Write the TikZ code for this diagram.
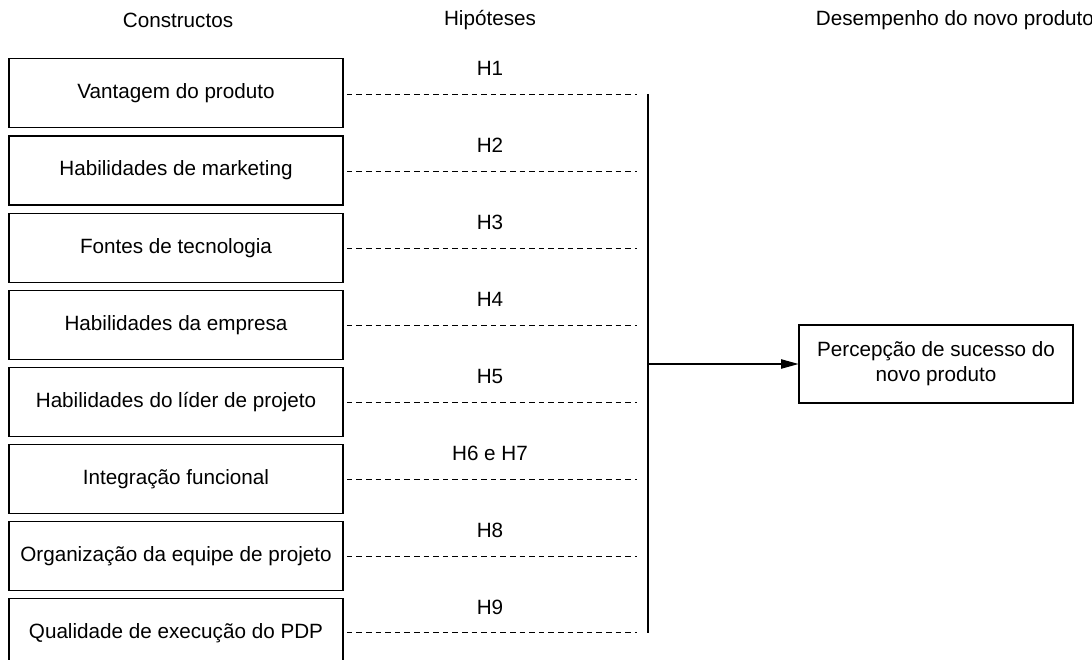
\documentclass[tikz,border=0pt]{standalone}
\usepackage{fontspec}
\setmainfont{Liberation Sans}
\usetikzlibrary{arrows.meta}
\tikzset{
  cbox/.style={draw, line width=.8pt, minimum width=250.5pt, minimum height=51.75pt, inner sep=0pt},
  outbox/.style={draw, line width=.8pt, minimum width=205.5pt, minimum height=58.5pt, align=center},
  hdash/.style={line width=.7pt, dash pattern=on 4.2pt off 3pt, shorten <=2.5pt},
  hlab/.style={inner sep=0pt}
}
\begin{document}
\begin{tikzpicture}[x=.75pt, y=-.75pt, font=\fontsize{15.5}{18.75}\selectfont]
  \useasboundingbox (0,0) rectangle (1092,660);
  \clip (0,0) rectangle (1092,660);
  % headings
  \node (tc) at (178,20) {Constructos};
  \node (th) at (490,20) {Hipóteses};
  \node[inner sep=0pt] (td) at (955,20) {Desempenho do novo produto};
  % constructs
  \node[cbox] (c1) at (176,93) {Vantagem do produto};
  \node[cbox] (c2) at (176,170.5) {Habilidades de marketing};
  \node[cbox] (c3) at (176,248) {Fontes de tecnologia};
  \node[cbox] (c4) at (176,325) {Habilidades da empresa};
  \node[cbox] (c5) at (176,402) {Habilidades do líder de projeto};
  \node[cbox] (c6) at (176,479) {Integração funcional};
  \node[cbox] (c7) at (176,556) {Organização da equipe de projeto};
  \node[cbox] (c8) at (176,633) {Qualidade de execução do PDP};
  % hypotheses
  \node[hlab] (h1) at (490,68) {H1};
  \node[hlab] (h2) at (490,145) {H2};
  \node[hlab] (h3) at (490,222) {H3};
  \node[hlab] (h4) at (490,299) {H4};
  \node[hlab] (h5) at (490,376) {H5};
  \node[hlab] (h6) at (490,453) {H6 e H7};
  \node[hlab] (h8) at (490,530) {H8};
  \node[hlab] (h9) at (490,607) {H9};
  \coordinate (e1) at (637,94);
  \coordinate (e2) at (637,171);
  \coordinate (e3) at (637,248);
  \coordinate (e4) at (637,325);
  \coordinate (e5) at (637,402);
  \coordinate (e6) at (637,479);
  \coordinate (e7) at (637,556);
  \coordinate (e8) at (637,632);
  \draw[hdash] (c1.east |- e1) -- (e1);
  \draw[hdash] (c2.east |- e2) -- (e2);
  \draw[hdash] (c3.east |- e3) -- (e3);
  \draw[hdash] (c4.east |- e4) -- (e4);
  \draw[hdash] (c5.east |- e5) -- (e5);
  \draw[hdash] (c6.east |- e6) -- (e6);
  \draw[hdash] (c7.east |- e7) -- (e7);
  \draw[hdash] (c8.east |- e8) -- (e8);
  % outcome
  \coordinate (vt) at (648,94);
  \coordinate (vb) at (648,633);
  \coordinate (vm) at (648,364);
  \draw[line width=.8pt] (vt) -- (vb);
  \node[outbox] (out) at (936,364) {Percepção de sucesso do\\novo produto};
  \draw[line width=.8pt, -{Triangle[length=13pt, width=7pt]}] (vm) -- (out);
\end{tikzpicture}
\end{document}
